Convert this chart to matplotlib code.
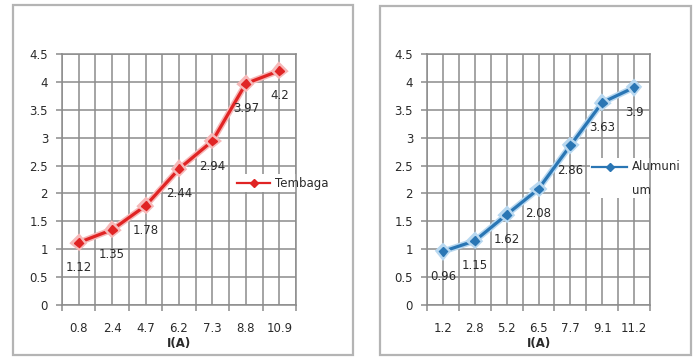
import numpy as np
import matplotlib
matplotlib.use("Agg")
import matplotlib.pyplot as plt
import matplotlib.patheffects as pe
from matplotlib.patches import Rectangle

# Tembaga (copper)
cu_current = ["0.8", "2.4", "4.7", "6.2", "7.3", "8.8", "10.9"]
cu_values = [1.12, 1.35, 1.78, 2.44, 2.94, 3.97, 4.2]

# Aluminium
al_current = ["1.2", "2.8", "5.2", "6.5", "7.7", "9.1", "11.2"]
al_values = [0.96, 1.15, 1.62, 2.08, 2.86, 3.63, 3.9]

W, H = 694, 358
DPI = 100
GRID = "#8c8c8c"
TEXT = "#2a2a2a"
FS = 8.5
PX = 72.0 / DPI  # points per pixel

plt.rcParams["font.family"] = ["DejaVu Sans"]

fig = plt.figure(figsize=(W / DPI, H / DPI), dpi=DPI)


def px_box(x0, y0, x1, y1):
    # pixel box (top-left origin) -> figure fraction [l, b, w, h]
    return [x0 / W, (H - y1) / H, (x1 - x0) / W, (y1 - y0) / H]


def frame(x0, y0, x1, y1):
    l, b, w, h = px_box(x0, y0, x1, y1)
    fig.add_artist(Rectangle((l, b), w, h, transform=fig.transFigure,
                             fill=False, edgecolor="#b4b4b4", linewidth=1.6))


def draw_chart(rect, cats, vals, color, halo, label, key_pos):
    ax = fig.add_axes(rect)
    x = np.arange(len(cats))
    ax.set_xlim(-0.5, len(cats) - 0.5)
    ax.set_ylim(0, 4.5)
    ax.set_yticks(np.arange(0, 4.51, 0.5))
    ax.set_yticklabels(["0", "0.5", "1", "1.5", "2", "2.5", "3", "3.5", "4", "4.5"])
    ax.set_xticks(x)
    ax.set_xticklabels(cats)
    ax.set_xticks(np.arange(-0.5, len(cats)), minor=True)
    ax.tick_params(axis="x", which="major", length=0, pad=12, labelsize=FS, labelcolor=TEXT)
    ax.tick_params(axis="x", which="minor", length=4, width=1.1, color=GRID, direction="out")
    ax.tick_params(axis="y", length=4, width=1.1, color=GRID, pad=6, labelsize=FS, labelcolor=TEXT)
    ax.grid(True, which="both", axis="x", color=GRID, linewidth=1.1)
    ax.grid(True, which="major", axis="y", color=GRID, linewidth=1.1)
    ax.set_axisbelow(True)
    for s in ax.spines.values():
        s.set_color(GRID)
        s.set_linewidth(1.1)
    ax.set_xlabel("I(A)", fontsize=FS, color=TEXT, fontweight="bold", labelpad=2)

    glow = [pe.withStroke(linewidth=4.5, foreground=halo)]
    ax.plot(x, vals, color=color, linewidth=2.3, marker="D", markersize=4.5,
            path_effects=glow, zorder=3)
    for xi, v in zip(x, vals):
        ax.annotate(f"{v:g}", (xi, v), xytext=(0, -25 * PX), textcoords="offset points",
                    ha="center", va="center", fontsize=FS, color=TEXT, zorder=4)

    # series key
    kx0, kx1, ky, tx = key_pos
    lines = label.split("\n")
    ax.add_patch(Rectangle((kx0 - 0.01, ky - 0.035 - 0.09 * (len(lines) - 1)),
                           1.25 - kx0, 0.07 + 0.09 * (len(lines) - 1),
                           transform=ax.transAxes, facecolor="white",
                           edgecolor="none", clip_on=False, zorder=2))
    ax.plot([kx0, kx1], [ky, ky], transform=ax.transAxes, color=color, linewidth=1.6,
            clip_on=False, zorder=5)
    ax.plot([(kx0 + kx1) / 2], [ky], transform=ax.transAxes, color=color, marker="D",
            markersize=4.5, clip_on=False, zorder=5)
    for i, t in enumerate(lines):
        ax.text(tx, ky - 0.092 * i, t, transform=ax.transAxes, ha="left", va="center",
                fontsize=FS, color=TEXT, zorder=6)
    return ax


frame(13, 5, 353, 355)
frame(380, 6, 691, 355)

draw_chart(px_box(62, 54, 296, 305), cu_current, cu_values,
           "#e02424", "#f6b8b8", "Tembaga", (0.748, 0.889, 0.486, 0.91))
draw_chart(px_box(427, 54, 650, 305), al_current, al_values,
           "#2a76b4", "#b8d8f0", "Alumuni\num", (0.740, 0.897, 0.55, 0.919))

fig.savefig("out.png", dpi=DPI)
